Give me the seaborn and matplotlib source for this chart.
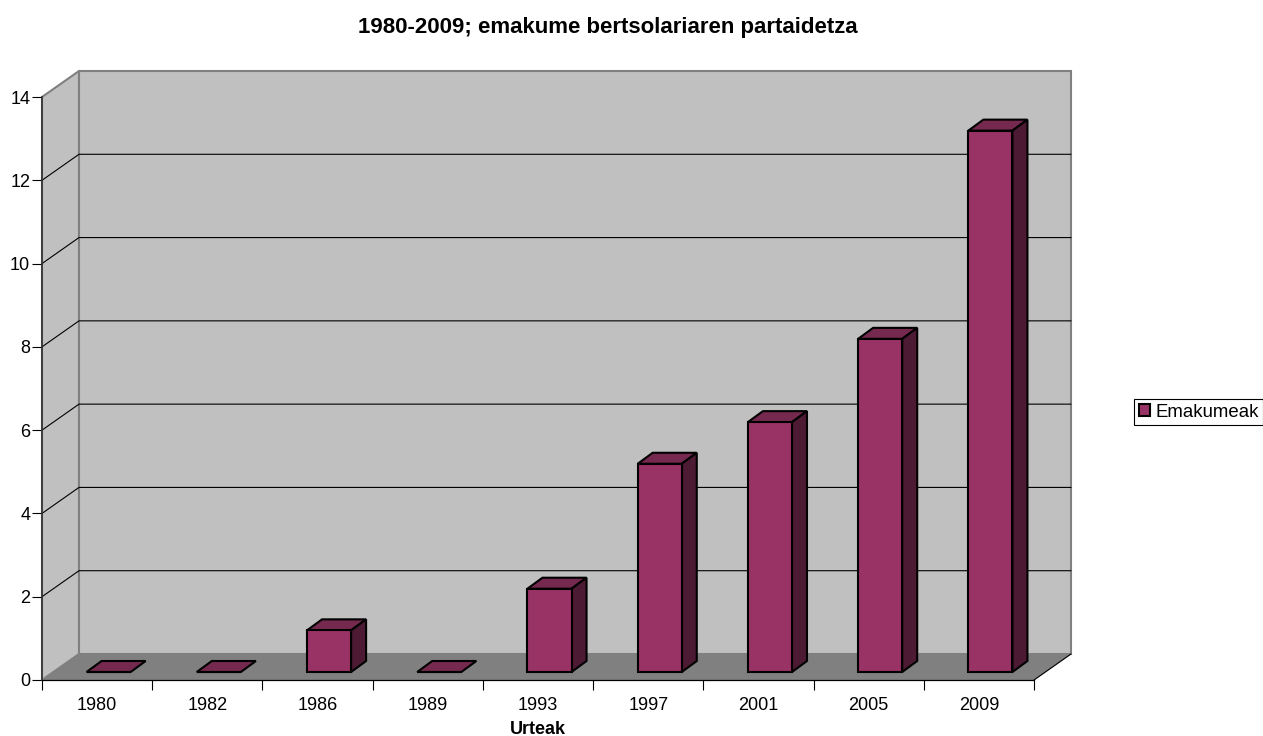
# Import Python Libraries
import matplotlib
matplotlib.use('Agg')
import matplotlib.pyplot as plt
import seaborn as sns
from matplotlib.patches import Polygon, Rectangle

sns.set_theme(style='white')
plt.rcParams['font.family'] = ['Liberation Sans', 'DejaVu Sans']

# Chart data
years = ['1980', '1982', '1986', '1989', '1993', '1997', '2001', '2005', '2009']
women = [0, 0, 1, 0, 2, 5, 6, 8, 13]
y_ticks = [0, 2, 4, 6, 8, 10, 12, 14]

W, H = 1263, 736
fig = plt.figure(figsize=(W / 100, H / 100), dpi=100)

# front plane of the fake 3d box, in pixels
left, right, top, bottom = 42, 1034, 97, 680
ax = fig.add_axes([left / W, 1 - bottom / H, (right - left) / W, (bottom - top) / H])
ax.patch.set_visible(False)

ax = sns.barplot(x=years, y=women, color='#993366', saturation=1, width=0.4,
                 edgecolor='black', linewidth=1.5, ax=ax)
bars = list(ax.patches)
ax.set_xlim(-0.5, len(years) - 0.5)
ax.set_ylim(0, 14)

# pixel sizes -> data units
px_x = len(years) / (right - left)
px_y = 14 / (bottom - top)
wall_dx, wall_dy = 37 * px_x, 26 * px_y
bar_shift_x, bar_shift_y = 11.5 * px_x, 8 * px_y
depth_dx, depth_dy = 15 * px_x, 11 * px_y

x0, x1 = ax.get_xlim()


def poly(points, face, edge, lw, z):
    ax.add_patch(Polygon(points, closed=True, facecolor=face, edgecolor=edge,
                         linewidth=lw, zorder=z, clip_on=False, joinstyle='miter'))


# walls and floor
poly([(x0, 0), (x0 + wall_dx, wall_dy), (x0 + wall_dx, 14 + wall_dy), (x0, 14)],
     '#c0c0c0', '#808080', 1.5, 0.5)
poly([(x0 + wall_dx, wall_dy), (x1 + wall_dx, wall_dy), (x1 + wall_dx, 14 + wall_dy),
      (x0 + wall_dx, 14 + wall_dy)], '#c0c0c0', '#808080', 1.5, 0.6)
poly([(x0, 0), (x1, 0), (x1 + wall_dx, wall_dy), (x0 + wall_dx, wall_dy)],
     '#808080', '#808080', 0.5, 0.7)

# gridlines along the left wall and the back wall
for t in y_ticks[1:-1]:
    ax.plot([x0, x0 + wall_dx, x1 + wall_dx], [t, t + wall_dy, t + wall_dy],
            color='black', lw=0.8, zorder=0.8, clip_on=False)
ax.plot([x1, x1 + wall_dx], [0, wall_dy], color='black', lw=0.8, zorder=0.8, clip_on=False)

# bars: shift seaborn's rectangles back and add top and side faces
for p in bars:
    val = p.get_height()
    p.set_x(p.get_x() + bar_shift_x)
    p.set_y(bar_shift_y)
    p.set_zorder(3)
    p.set_clip_on(False)
    a = p.get_x()
    b = a + p.get_width()
    base = bar_shift_y
    peak = base + val
    poly([(a, peak), (b, peak), (b + depth_dx, peak + depth_dy), (a + depth_dx, peak + depth_dy)],
         '#75294f', 'black', 1.5, 2.5)
    if val > 0:
        poly([(b, base), (b + depth_dx, base + depth_dy), (b + depth_dx, peak + depth_dy), (b, peak)],
             '#4d1a33', 'black', 1.5, 2.5)

# axes
sns.despine(ax=ax, top=True, right=True)
for side in ['left', 'bottom']:
    ax.spines[side].set_color('black')
    ax.spines[side].set_linewidth(0.9)
    ax.spines[side].set_zorder(5)
ax.spines['left'].set_color('#333333')
ax.spines['left'].set_linewidth(1.2)

ax.set_yticks(y_ticks)
ax.tick_params(axis='y', length=7.5, width=0.8, color='black', left=True,
               labelsize=13, labelcolor='black', pad=1)
ax.set_xticks(range(len(years)))
ax.set_xticklabels(years)
ax.tick_params(axis='x', which='major', length=0, labelsize=13, labelcolor='black', pad=12.5)
ax.set_xticks([i - 0.5 for i in range(len(years) + 1)], minor=True)
ax.tick_params(axis='x', which='minor', length=7.5, width=0.8, color='black', bottom=True)

ax.set_xlabel('')
ax.set_ylabel('')
fig.text(538 / W, 1 - 729 / H, 'Urteak', fontsize=13, fontweight='bold', color='black',
         ha='center', va='center')
fig.text(608 / W, 1 - 27 / H, '1980-2009; emakume bertsolariaren partaidetza', fontsize=16,
         fontweight='bold', color='black', ha='center', va='center')

# legend
handles = [Rectangle((0, 0), 1, 1, facecolor='#993366', edgecolor='black', linewidth=1.5)]
leg = fig.legend(handles, ['Emakumeak'], loc='center left', bbox_to_anchor=(1134 / W, 1 - 412 / H),
                 fontsize=13.4, frameon=True, fancybox=False, edgecolor='black', framealpha=1,
                 handlelength=0.6, handleheight=0.6, handletextpad=0.3, borderpad=0.25,
                 borderaxespad=0, labelcolor='black')
leg.get_frame().set_linewidth(0.8)

fig.savefig('out.png', dpi=100)
